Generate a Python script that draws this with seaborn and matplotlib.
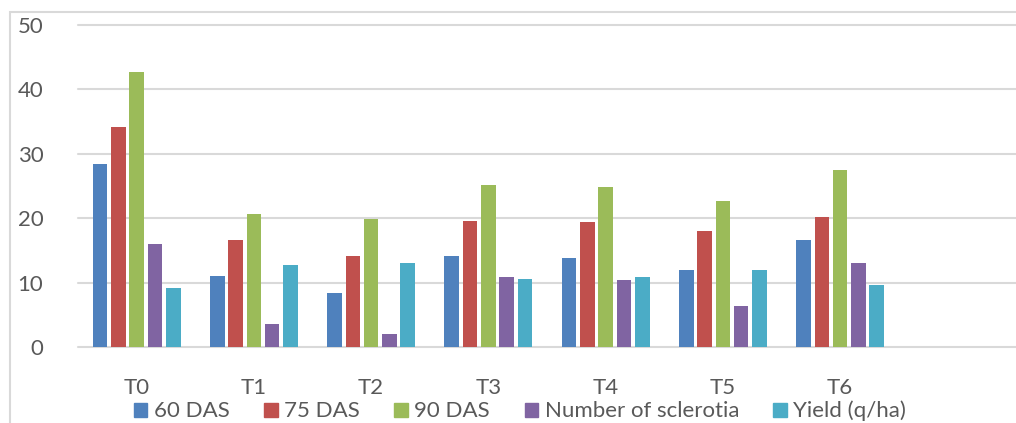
import pandas as pd
import numpy as np
import matplotlib.pyplot as plt
import matplotlib.patches as mpatches
import seaborn as sns

# Data
treatments = ['T0', 'T1', 'T2', 'T3', 'T4', 'T5', 'T6']
das_60 = [28.4, 11.0, 8.4, 14.2, 13.8, 12.0, 16.6]
das_75 = [34.1, 16.6, 14.2, 19.5, 19.4, 18.0, 20.2]
das_90 = [42.7, 20.7, 19.9, 25.1, 24.9, 22.7, 27.5]
sclerotia = [16.0, 3.6, 2.0, 10.9, 10.4, 6.3, 13.1]
yield_qha = [9.1, 12.7, 13.1, 10.6, 10.9, 12.0, 9.7]

series_names = ['60 DAS', '75 DAS', '90 DAS', 'Number of sclerotia', 'Yield (q/ha)']
colors = ['#4F81BD', '#C0504D', '#9BBB59', '#8064A2', '#4BACC6']

# Long format table for seaborn
series_values = [das_60, das_75, das_90, sclerotia, yield_qha]
df = pd.DataFrame({
    'Treatment': treatments * len(series_names),
    'Parameter': np.repeat(series_names, len(treatments)),
    'Value': np.concatenate(series_values),
})

sns.set_style('white')
plt.rcParams['font.family'] = ['Lato', 'DejaVu Sans']
txt = '#595959'
grid = '#D9D9D9'

fig = plt.figure(figsize=(10.16, 4.23), dpi=100)
ax = fig.add_axes([78 / 1016, 1 - 347 / 423, 1 - 78 / 1016, (347 - 25) / 423])

sns.barplot(data=df, x='Treatment', y='Value', hue='Parameter', palette=colors,
            saturation=1, width=0.78, gap=0.2, linewidth=0, ax=ax)

ax.set_xlim(-0.5, 7.5)  # empty eighth slot as in the original
ax.set_ylim(0, 50)
ax.set_yticks([0, 10, 20, 30, 40, 50])
ax.yaxis.grid(True, color=grid, linewidth=1.5)
for gl in ax.get_ygridlines():
    gl.set_clip_on(False)
ax.set_axisbelow(True)
for s in ax.spines.values():
    s.set_visible(False)
ax.set_xlabel('')
ax.set_ylabel('')
ax.tick_params(axis='y', length=0, pad=25, labelsize=16, labelcolor=txt)
ax.tick_params(axis='x', length=0, pad=22, labelsize=16, labelcolor=txt)

# legend at the bottom
ax.get_legend().remove()
handles = [mpatches.Patch(color=c, label=n) for c, n in zip(colors, series_names)]
fig.legend(handles=handles, loc='center', bbox_to_anchor=(0.512, 0.028), ncol=5,
           frameon=False, fontsize=16, labelcolor=txt, handlelength=0.6,
           handleheight=0.6, handletextpad=0.3, columnspacing=1.55,
           borderaxespad=0, borderpad=0)

# chart area border
fig.patches.append(mpatches.Rectangle((10 / 1016, -0.1), 1.1, 1 - 12 / 423 + 0.1,
                                      transform=fig.transFigure, fill=False,
                                      edgecolor=grid, linewidth=1.5, zorder=0))

fig.savefig('out.png', dpi=100)
